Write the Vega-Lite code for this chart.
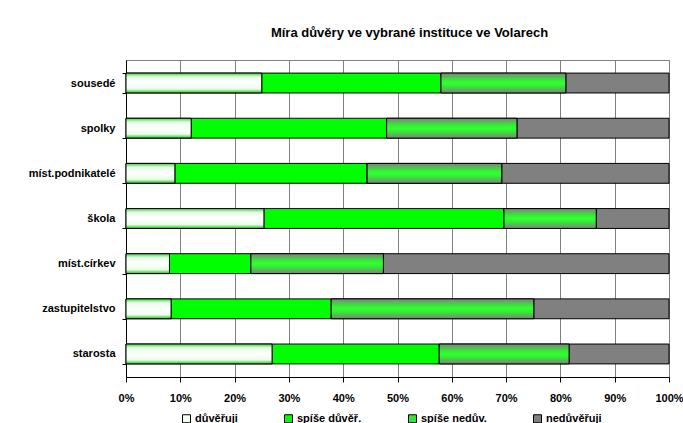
{
  "$schema": "https://vega.github.io/schema/vega-lite/v6.json",
  "autosize": "none",
  "width": 543,
  "height": 317,
  "padding": {"left": 126, "top": 60, "right": 14, "bottom": 46},
  "background": "white",
  "title": {
    "text": "Míra důvěry ve vybrané instituce ve Volarech",
    "font": "Liberation Sans",
    "fontSize": 13,
    "fontWeight": "bold",
    "color": "black",
    "anchor": "middle",
    "dx": 12,
    "offset": 14
  },
  "config": {
    "view": {"stroke": "#808080", "strokeWidth": 1},
    "font": "Liberation Sans"
  },
  "data": {
    "values": [
      {"inst": "sousedé", "cat": "důvěřuji", "k": 1, "v": 25},
      {"inst": "sousedé", "cat": "spíše důvěř.", "k": 2, "v": 33},
      {"inst": "sousedé", "cat": "spíše nedův.", "k": 3, "v": 23},
      {"inst": "sousedé", "cat": "nedůvěřuji", "k": 4, "v": 19},
      {"inst": "spolky", "cat": "důvěřuji", "k": 1, "v": 12},
      {"inst": "spolky", "cat": "spíše důvěř.", "k": 2, "v": 36},
      {"inst": "spolky", "cat": "spíše nedův.", "k": 3, "v": 24},
      {"inst": "spolky", "cat": "nedůvěřuji", "k": 4, "v": 28},
      {"inst": "míst.podnikatelé", "cat": "důvěřuji", "k": 1, "v": 9},
      {"inst": "míst.podnikatelé", "cat": "spíše důvěř.", "k": 2, "v": 35.4},
      {"inst": "míst.podnikatelé", "cat": "spíše nedův.", "k": 3, "v": 24.8},
      {"inst": "míst.podnikatelé", "cat": "nedůvěřuji", "k": 4, "v": 30.8},
      {"inst": "škola", "cat": "důvěřuji", "k": 1, "v": 25.4},
      {"inst": "škola", "cat": "spíše důvěř.", "k": 2, "v": 44.2},
      {"inst": "škola", "cat": "spíše nedův.", "k": 3, "v": 17},
      {"inst": "škola", "cat": "nedůvěřuji", "k": 4, "v": 13.4},
      {"inst": "míst.církev", "cat": "důvěřuji", "k": 1, "v": 8},
      {"inst": "míst.církev", "cat": "spíše důvěř.", "k": 2, "v": 15},
      {"inst": "míst.církev", "cat": "spíše nedův.", "k": 3, "v": 24.4},
      {"inst": "míst.církev", "cat": "nedůvěřuji", "k": 4, "v": 52.6},
      {"inst": "zastupitelstvo", "cat": "důvěřuji", "k": 1, "v": 8.3},
      {"inst": "zastupitelstvo", "cat": "spíše důvěř.", "k": 2, "v": 29.5},
      {"inst": "zastupitelstvo", "cat": "spíše nedův.", "k": 3, "v": 37.3},
      {"inst": "zastupitelstvo", "cat": "nedůvěřuji", "k": 4, "v": 24.9},
      {"inst": "starosta", "cat": "důvěřuji", "k": 1, "v": 26.9},
      {"inst": "starosta", "cat": "spíše důvěř.", "k": 2, "v": 30.8},
      {"inst": "starosta", "cat": "spíše nedův.", "k": 3, "v": 23.9},
      {"inst": "starosta", "cat": "nedůvěřuji", "k": 4, "v": 18.4}
    ]
  },
  "transform": [
    {"stack": "v", "groupby": ["inst"], "sort": [{"field": "k", "order": "ascending"}], "as": ["v0", "v1"]}
  ],
  "encoding": {
    "y": {
      "field": "inst",
      "type": "nominal",
      "sort": ["sousedé", "spolky", "míst.podnikatelé", "škola", "míst.církev", "zastupitelstvo", "starosta"],
      "scale": {"paddingInner": 0.56, "paddingOuter": 0.29},
      "axis": {
        "title": null,
        "labelFont": "Liberation Sans",
        "labelFontSize": 11,
        "labelFontWeight": "bold",
        "labelColor": "black",
        "labelPadding": 7,
        "domainColor": "black",
        "tickColor": "black",
        "tickSize": 4,
        "tickBand": "extent"
      }
    },
    "x": {
      "field": "v0",
      "type": "quantitative",
      "scale": {"domain": [0, 100], "nice": false},
      "axis": {
        "title": null,
        "values": [0, 10, 20, 30, 40, 50, 60, 70, 80, 90, 100],
        "labelExpr": "datum.value + '%'",
        "labelFont": "Liberation Sans",
        "labelFontSize": 11,
        "labelFontWeight": "bold",
        "labelColor": "black",
        "labelPadding": 10,
        "labelFlush": false,
        "domainColor": "black",
        "tickColor": "black",
        "tickSize": 5,
        "grid": true,
        "gridColor": "#808080",
        "gridWidth": 1
      }
    },
    "x2": {"field": "v1"}
  },
  "layer": [
    {
      "mark": {"type": "bar", "stroke": "black", "strokeWidth": 1},
      "encoding": {
        "color": {
          "field": "cat",
          "type": "nominal",
          "scale": {
            "domain": ["důvěřuji", "spíše důvěř.", "spíše nedův.", "nedůvěřuji"],
            "range": ["#f4fff4", "#00ff00", "#33e633", "#808080"]
          },
          "legend": {
            "title": null,
            "orient": "none",
            "legendX": 55,
            "legendY": 353,
            "direction": "horizontal",
            "columns": 4,
            "columnPadding": 44,
            "symbolType": "square",
            "symbolSize": 64,
            "symbolStrokeColor": "black",
            "symbolStrokeWidth": 1,
            "symbolOpacity": 1,
            "labelFont": "Liberation Sans",
            "labelFontSize": 11,
            "labelFontWeight": "bold",
            "labelColor": "black",
            "labelOffset": 3
          }
        }
      }
    },
    {
      "transform": [{"filter": "datum.cat === 'důvěřuji'"}],
      "mark": {
        "type": "bar",
        "stroke": "black",
        "strokeWidth": 1,
        "fill": {
          "gradient": "linear", "x1": 0, "y1": 0, "x2": 0, "y2": 1,
          "stops": [
            {"offset": 0, "color": "#40d040"},
            {"offset": 0.2, "color": "#e8ffe8"},
            {"offset": 0.5, "color": "#ffffff"},
            {"offset": 0.8, "color": "#e8ffe8"},
            {"offset": 1, "color": "#20c020"}
          ]
        }
      },
      "encoding": {}
    },
    {
      "transform": [{"filter": "datum.cat === 'spíše nedův.'"}],
      "mark": {
        "type": "bar",
        "stroke": "black",
        "strokeWidth": 1,
        "fill": {
          "gradient": "linear", "x1": 0, "y1": 0, "x2": 0, "y2": 1,
          "stops": [
            {"offset": 0, "color": "#808080"},
            {"offset": 0.35, "color": "#33ee33"},
            {"offset": 0.5, "color": "#33ff33"},
            {"offset": 0.65, "color": "#33ee33"},
            {"offset": 1, "color": "#808080"}
          ]
        }
      },
      "encoding": {}
    }
  ]
}
